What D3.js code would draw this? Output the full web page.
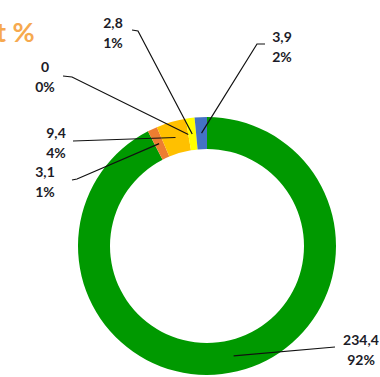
<!DOCTYPE html>
<meta charset="utf-8" />
<html>
  <style>
    body { margin: 0; background: #fff; }
    .lbl { font-family: Lato, "Open Sans", sans-serif; font-weight: bold; font-size: 14px; fill: #1c1c28; }
    .title { font-family: Lato, "Open Sans", sans-serif; font-weight: bold; font-size: 27px; fill: #f6a94f; }
  </style>
  <body>
    <svg width="380" height="377"></svg>
    <script src="https://d3js.org/d3.v7.min.js"></script>
    <script>
      // slice data, in drawing order (clockwise from 12 o'clock)
      var values = [234.4, 3.1, 9.4, 0, 2.8, 3.9];
      var valueLabels = ["234,4", "3,1", "9,4", "0", "2,8", "3,9"];
      var pctLabels = ["92%", "1%", "4%", "0%", "1%", "2%"];
      var colors = ["#009900", "#ed7d31", "#ffc000", "#a5a5a5", "#ffff00", "#4472c4"];

      // where each label sits (x centre, first baseline) and where its leader line starts
      var labelPos = [[361, 345], [45, 177], [56, 138], [45, 72], [113, 28], [282, 42]];
      var elbows = [
        [[335, 347]],
        [[72, 180], [77, 179]],
        [[73, 141]],
        [[63, 76], [72, 77]],
        [[132, 30], [138, 31]],
        [[265, 44], [257, 44]]
      ];

      var svg = d3.select("svg");
      var cx = 207, cy = 246, rOut = 129, rIn = 97;

      var pie = d3.pie().sort(null).value(function (d) { return d; });
      var arcs = pie(values);
      var arc = d3.arc().innerRadius(rIn).outerRadius(rOut);
      var mid = d3.arc().innerRadius(113).outerRadius(113);

      var g = svg.append("g").attr("transform", "translate(" + cx + "," + cy + ")");

      g.selectAll("path")
        .data(arcs)
        .enter()
        .append("path")
        .attr("d", arc)
        .attr("fill", function (d, i) { return colors[i]; });

      // leader lines
      var line = d3.line();
      arcs.forEach(function (d, i) {
        var c = mid.centroid(d);
        var pts = elbows[i].concat([[c[0] + cx, c[1] + cy]]);
        svg.append("path")
          .attr("d", line(pts))
          .attr("fill", "none")
          .attr("stroke", "#111")
          .attr("stroke-width", 1.2);
      });

      // labels
      labelPos.forEach(function (p, i) {
        var t = svg.append("text").attr("class", "lbl").attr("text-anchor", "middle");
        t.append("tspan").attr("x", p[0]).attr("y", p[1]).text(valueLabels[i]);
        t.append("tspan").attr("x", p[0]).attr("y", p[1] + 20).text(pctLabels[i]);
      });

      // cut-off title fragment
      svg.append("text")
        .attr("class", "title")
        .attr("x", -4)
        .attr("y", 42)
        .text("t %");
    </script>
  </body>
</html>
